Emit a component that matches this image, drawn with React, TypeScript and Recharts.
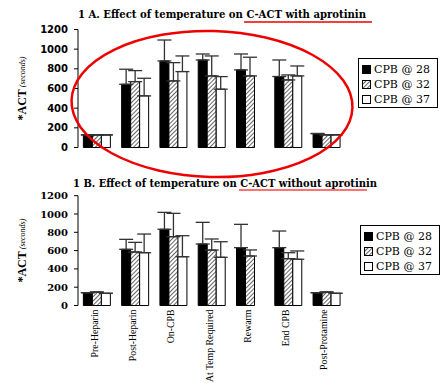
import { BarChart, Bar, XAxis, YAxis, ErrorBar, Legend } from 'recharts'

const categories = ['Pre-Heparin', 'Post-Heparin', 'On-CPB', 'At Temp Required', 'Rewarm', 'End CPB', 'Post-Protamine']
const seriesNames = ['CPB @ 28', 'CPB @ 32', 'CPB @ 37']
const yTicks = [0, 200, 400, 600, 800, 1000, 1200]

// 1 A: with aprotinin (mean, upper SD)
const withAp28 = [128, 643, 880, 890, 789, 722, 142]
const withAp32 = [128, 670, 677, 728, 728, 687, 129]
const withAp37 = [128, 525, 772, 593, null, 728, 129]
const withApErr28 = [0, 153, 213, 61, 162, 168, 0]
const withApErr32 = [0, 112, 186, 203, 190, 51, 0]
const withApErr37 = [0, 179, 159, 128, null, 101, 0]

// 1 B: without aprotinin
const noAp28 = [140, 614, 833, 672, 632, 632, 140]
const noAp32 = [147, 585, 752, 606, 541, 512, 147]
const noAp37 = [133, 577, 533, 527, null, 505, 133]
const noApErr28 = [0, 109, 185, 237, 255, 182, 0]
const noApErr32 = [0, 105, 255, 121, 66, 65, 0]
const noApErr37 = [0, 204, 230, 170, null, 91, 0]

const up = (e: number | null) => (e == null ? null : [0, e])

const buildRows = (a: any[], b: any[], c: any[], ea: any[], eb: any[], ec: any[]) =>
  categories.map((name, i) => ({
    name,
    s28: a[i], s32: b[i], s37: c[i],
    e28: up(ea[i]), e32: up(eb[i]), e37: up(ec[i]),
  }))

const panelA = buildRows(withAp28, withAp32, withAp37, withApErr28, withApErr32, withApErr37)
const panelB = buildRows(noAp28, noAp32, noAp37, noApErr28, noApErr32, noApErr37)

const fills = ['#000', 'url(#hatch)', '#fff']

const LegendBox = () => (
  <div style={{
    border: '1.5px solid #000', background: '#fff', width: 80, height: 50, boxSizing: 'border-box',
    padding: '3px 0 0 3px', fontFamily: 'DejaVu Serif', fontSize: 11, lineHeight: '15px', color: '#000',
  }}>
    {seriesNames.map((n, i) => (
      <div key={n} style={{ display: 'flex', alignItems: 'center', whiteSpace: 'nowrap' }}>
        <svg width={11} height={9} style={{ marginRight: 1 }}>
          <rect x={0.5} y={0.5} width={8} height={8} fill={fills[i]} stroke="#000" />
        </svg>
        {n}
      </div>
    ))}
  </div>
)

const yLabel = (props: any) => {
  const vb = props.viewBox || { y: 0, height: 0 }
  const cx = 22
  const cy = vb.y + vb.height / 2
  return (
    <text x={cx} y={cy} transform={`rotate(-90, ${cx}, ${cy})`} textAnchor="middle"
      dominantBaseline="central" fill="#000" fontFamily="Liberation Serif">
      <tspan fontSize={12} fontWeight="bold">*ACT</tspan>
      <tspan fontSize={8} fontStyle="italic" dx={2}>(seconds)</tspan>
    </text>
  )
}

const CategoryTick = (props: any) => {
  const { x, y, payload } = props
  const tx = x - 3
  return (
    <text x={tx} y={y} transform={`rotate(-90, ${tx}, ${y})`} textAnchor="end" dominantBaseline="central"
      fontFamily="Liberation Serif" fontSize={9.8} fill="#000">
      {payload.value}
    </text>
  )
}

function panel(data: any[], opts: { height: number; top: number; labels: boolean; serifTicks: boolean; legendTop: number; legendLeft: number }) {
  const tickFont = opts.serifTicks
    ? { fill: '#000', fontSize: 10, fontFamily: 'DejaVu Serif', fontWeight: 'bold' }
    : { fill: '#000', fontSize: 10, fontFamily: 'DejaVu Sans', fontWeight: 'bold' }
  return (
    <BarChart width={441} height={opts.height} data={data} barCategoryGap="14%" barGap={0}
      margin={{ top: opts.top, right: 95, bottom: 0, left: 0 }}>
      <XAxis xAxisId="edges" type="number" domain={[0, 7]} ticks={[0, 1, 2, 3, 4, 5, 6, 7]} allowDataOverflow
        tick={false} tickSize={3} height={opts.labels ? 0 : 12.5} stroke="#000" />
      <XAxis xAxisId="cat" dataKey="name" hide={!opts.labels} height={77.5} axisLine={false} tickLine={false}
        tickSize={0} tickMargin={4} interval={0} tick={<CategoryTick />} />
      <YAxis width={78} domain={[0, 1200]} ticks={yTicks} tickSize={4} tickMargin={6} stroke="#000"
        tick={tickFont} label={yLabel} />
      <Legend layout="vertical" align="center" verticalAlign="middle" content={<LegendBox />}
        wrapperStyle={{ position: 'absolute', left: opts.legendLeft, top: opts.legendTop, width: 80, height: 50 }} />
      <Bar xAxisId="cat" dataKey="s28" name={seriesNames[0]} fill={fills[0]} stroke="#000" strokeWidth={1} isAnimationActive={false}>
        <ErrorBar dataKey="e28" width={7} strokeWidth={1.3} stroke="#333" />
      </Bar>
      <Bar xAxisId="cat" dataKey="s32" name={seriesNames[1]} fill={fills[1]} stroke="#000" strokeWidth={1} isAnimationActive={false}>
        <ErrorBar dataKey="e32" width={7} strokeWidth={1.3} stroke="#333" />
      </Bar>
      <Bar xAxisId="cat" dataKey="s37" name={seriesNames[2]} fill={fills[2]} stroke="#000" strokeWidth={1} isAnimationActive={false}>
        <ErrorBar dataKey="e37" width={7} strokeWidth={1.3} stroke="#333" />
      </Bar>
    </BarChart>
  )
}

export default function App() {
  return (
    <div style={{ position: 'absolute', left: 0, top: 0, width: 441, height: 383, background: '#fff', overflow: 'hidden' }}>
      <svg width={0} height={0} style={{ position: 'absolute' }}>
        <defs>
          <pattern id="hatch" width={3} height={3} patternUnits="userSpaceOnUse" patternTransform="rotate(45)">
            <rect width={3} height={3} fill="#fff" />
            <line x1={0} y1={0} x2={0} y2={3} stroke="#000" strokeWidth={1.2} />
          </pattern>
        </defs>
      </svg>
      <div style={{ position: 'absolute', left: 0, top: 0 }}>
        {panel(panelA, { height: 160, top: 29.5, labels: false, serifTicks: false, legendLeft: 358, legendTop: 58 })}
      </div>
      <div style={{ position: 'absolute', left: 0, top: 160 }}>
        {panel(panelB, { height: 223, top: 35.7, labels: true, serifTicks: true, legendLeft: 360, legendTop: 65 })}
      </div>
      <svg width={441} height={383} style={{ position: 'absolute', left: 0, top: 0, pointerEvents: 'none' }}>
        <text x={78} y={18} textLength={288} lengthAdjust="spacingAndGlyphs" fontFamily="DejaVu Serif"
          fontWeight="bold" fontSize={10.5} fill="#000">1 A. Effect of temperature on C-ACT with aprotinin</text>
        <line x1={244} y1={22} x2={372} y2={22} stroke="#e00" strokeWidth={1.5} />
        <text x={73} y={187} textLength={304} lengthAdjust="spacingAndGlyphs" fontFamily="DejaVu Serif"
          fontWeight="bold" fontSize={10.5} fill="#000">1 B. Effect of temperature on C-ACT without aprotinin</text>
        <line x1={239} y1={190} x2={367} y2={190} stroke="#f44" strokeWidth={1.5} />
        <ellipse cx={212} cy={104} rx={140.5} ry={73} fill="none" stroke="#e00" strokeWidth={2.5} transform="rotate(1.5, 212, 104)" />
      </svg>
    </div>
  )
}
